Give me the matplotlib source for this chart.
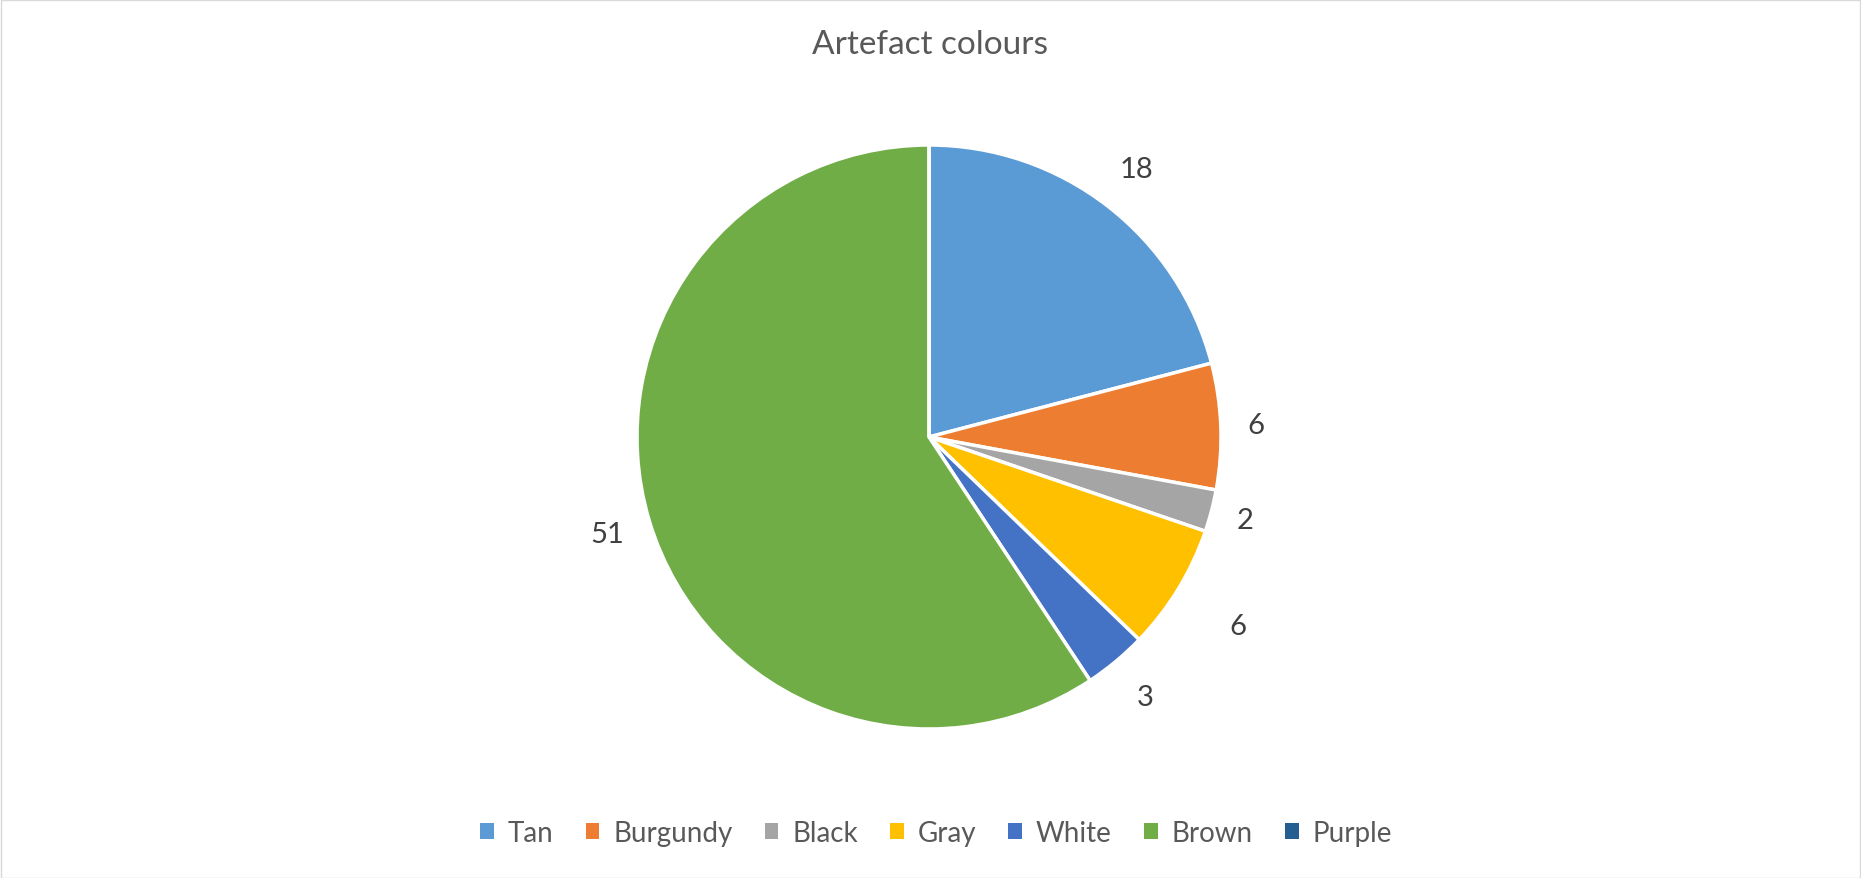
import matplotlib
matplotlib.use("Agg")
import matplotlib.pyplot as plt
import numpy as np
from matplotlib.patches import Rectangle, Patch

plt.rcParams['font.family'] = ['Lato', 'DejaVu Sans']

categories = ["Tan", "Burgundy", "Black", "Gray", "White", "Brown", "Purple"]
values = [18, 6, 2, 6, 3, 51, 0]
colors = ["#5B9BD5", "#ED7D31", "#A5A5A5", "#FFC000", "#4472C4", "#70AD47", "#255E91"]
title = "Artefact colours"
# per-label radial placement (fraction of radius), mimicking Excel's outside-end labels
label_dist = [1.16, 1.12, 1.12, 1.24, 1.16, 1.15, 1.15]

W, H = 1861, 879
fig = plt.figure(figsize=(W / 100, H / 100), dpi=100)
ax = fig.add_axes([0, 0, 1, 1])

cx, cy, R = 929, H - 438, 292
labels = [str(v) if v > 0 else "" for v in values]
wedges, texts = ax.pie(values, colors=colors, startangle=90, counterclock=False,
                       center=(cx, cy), radius=R, labels=labels,
                       labeldistance=1.16,
                       wedgeprops=dict(edgecolor='white', linewidth=2.5),
                       textprops=dict(fontsize=21, color='#404040'))
for w, t, d in zip(wedges, texts, label_dist):
    ang = np.deg2rad((w.theta1 + w.theta2) / 2)
    t.set_position((cx + d * R * np.cos(ang), cy + d * R * np.sin(ang)))
    t.set_ha('center')
    t.set_va('center')

ax.set_xlim(0, W)
ax.set_ylim(0, H)
ax.set_aspect('equal')
ax.axis('off')

ax.text(930, H - 45, title, ha='center', va='center', fontsize=24, color='#595959')

handles = [Patch(facecolor=c, edgecolor='none') for c in colors]
leg = fig.legend(handles, categories, loc='center', bbox_to_anchor=(936 / W, 1 - 834 / H),
                 ncol=len(categories), frameon=False, fontsize=20,
                 handlelength=0.5, handleheight=0.5, handletextpad=0.5, columnspacing=1.15)
for t in leg.get_texts():
    t.set_color('#595959')

fig.patches.append(Rectangle((0.5 / W, 0.5 / H), 1 - 1.5 / W, 1 - 1.5 / H, transform=fig.transFigure,
                             fill=False, edgecolor='#D9D9D9', linewidth=1))

fig.savefig("out.png", dpi=100, facecolor='white')
